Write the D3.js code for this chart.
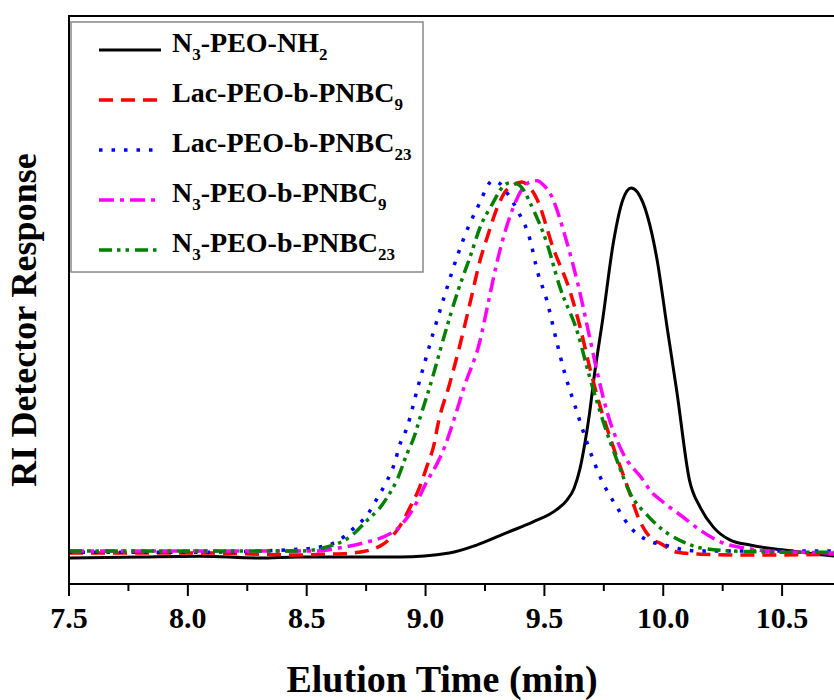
<!DOCTYPE html>
<html>
<head>
<meta charset="utf-8">
<script src="https://cdn.jsdelivr.net/npm/d3@7"></script>
<style>
  body { margin: 0; background: #fff; }
  text { font-family: "Liberation Serif", "Times New Roman", serif; font-weight: bold; fill: #000; }
</style>
</head>
<body>
<svg id="chart" width="834" height="700"></svg>
<script>
// GPC traces, elution time (min) vs RI response (normalised, a.u.)
const seriesNames = ["N3-PEO-NH2", "Lac-PEO-b-PNBC9", "Lac-PEO-b-PNBC23", "N3-PEO-b-PNBC9", "N3-PEO-b-PNBC23"];
// legend labels split in [text, subscript] pieces
const legendParts = [
  [["N", ""], ["3", "sub"], ["-PEO-NH", ""], ["2", "sub"]],
  [["Lac-PEO-b-PNBC", ""], ["9", "sub"]],
  [["Lac-PEO-b-PNBC", ""], ["23", "sub"]],
  [["N", ""], ["3", "sub"], ["-PEO-b-PNBC", ""], ["9", "sub"]],
  [["N", ""], ["3", "sub"], ["-PEO-b-PNBC", ""], ["23", "sub"]]
];
const xTicks = [7.5, 8.0, 8.5, 9.0, 9.5, 10.0, 10.5];

const nh2Time = [7.50, 7.80, 8.05, 8.30, 8.47, 8.89, 9.10, 9.215, 9.34, 9.45, 9.55, 9.595, 9.625, 9.65, 9.672, 9.69, 9.71, 9.745, 9.79, 9.83, 9.865, 9.915, 9.974, 10.016, 10.058, 10.11, 10.155, 10.21, 10.28, 10.365, 10.50, 10.645, 10.72];
const nh2Resp = [0.063, 0.066, 0.068, 0.063, 0.066, 0.066, 0.076, 0.096, 0.127, 0.154, 0.185, 0.210, 0.240, 0.290, 0.360, 0.430, 0.525, 0.666, 0.861, 0.970, 1.000, 0.962, 0.818, 0.648, 0.481, 0.261, 0.192, 0.142, 0.109, 0.096, 0.084, 0.073, 0.068];

const lac9Time = [7.50, 8.05, 8.47, 8.585, 8.695, 8.81, 8.89, 8.935, 8.97, 9.005, 9.04, 9.05, 9.10, 9.145, 9.19, 9.23, 9.26, 9.305, 9.335, 9.37, 9.405, 9.44, 9.47, 9.535, 9.61, 9.65, 9.69, 9.735, 9.79, 9.85, 9.90, 9.957, 9.986, 10.058, 10.155, 10.29, 10.50, 10.72];
const lac9Resp = [0.076, 0.076, 0.071, 0.073, 0.076, 0.094, 0.142, 0.192, 0.235, 0.294, 0.362, 0.395, 0.501, 0.603, 0.716, 0.818, 0.876, 0.955, 0.990, 1.008, 1.015, 1.000, 0.970, 0.851, 0.734, 0.648, 0.547, 0.446, 0.344, 0.243, 0.159, 0.109, 0.101, 0.078, 0.073, 0.071, 0.071, 0.073];

const lac23Time = [7.50, 8.05, 8.485, 8.555, 8.63, 8.695, 8.76, 8.80, 8.84, 8.87, 8.89, 8.92, 8.97, 9.03, 9.085, 9.135, 9.18, 9.23, 9.255, 9.28, 9.31, 9.34, 9.385, 9.44, 9.47, 9.51, 9.55, 9.585, 9.63, 9.68, 9.735, 9.805, 9.86, 9.93, 10.007, 10.07, 10.155, 10.365, 10.72];
const lac23Resp = [0.078, 0.078, 0.086, 0.091, 0.106, 0.137, 0.177, 0.218, 0.261, 0.304, 0.347, 0.390, 0.501, 0.628, 0.737, 0.830, 0.901, 0.965, 0.998, 1.018, 1.012, 0.990, 0.945, 0.868, 0.790, 0.716, 0.615, 0.532, 0.446, 0.354, 0.268, 0.192, 0.142, 0.109, 0.096, 0.086, 0.081, 0.081, 0.081];

const n3b9Time = [7.50, 8.05, 8.54, 8.64, 8.755, 8.82, 8.89, 8.95, 9.005, 9.05, 9.08, 9.115, 9.165, 9.23, 9.26, 9.31, 9.37, 9.41, 9.44, 9.47, 9.495, 9.525, 9.595, 9.64, 9.69, 9.72, 9.765, 9.83, 9.915, 9.944, 9.999, 10.083, 10.155, 10.24, 10.335, 10.435, 10.575, 10.72];
const n3b9Resp = [0.081, 0.081, 0.081, 0.089, 0.104, 0.116, 0.142, 0.190, 0.256, 0.304, 0.344, 0.405, 0.501, 0.615, 0.699, 0.835, 0.952, 1.000, 1.015, 1.018, 1.008, 0.985, 0.861, 0.759, 0.623, 0.539, 0.430, 0.329, 0.261, 0.235, 0.205, 0.167, 0.134, 0.104, 0.089, 0.081, 0.078, 0.076];

const n3b23Time = [7.50, 8.05, 8.47, 8.585, 8.68, 8.755, 8.81, 8.84, 8.88, 8.92, 8.955, 8.97, 9.02, 9.08, 9.135, 9.19, 9.23, 9.28, 9.325, 9.355, 9.385, 9.415, 9.44, 9.51, 9.565, 9.64, 9.69, 9.745, 9.805, 9.86, 9.935, 9.999, 10.083, 10.155, 10.29, 10.50, 10.72];
const n3b23Resp = [0.081, 0.081, 0.081, 0.091, 0.116, 0.159, 0.192, 0.218, 0.261, 0.324, 0.375, 0.405, 0.501, 0.628, 0.737, 0.830, 0.901, 0.958, 1.003, 1.013, 1.010, 0.992, 0.962, 0.861, 0.749, 0.633, 0.522, 0.413, 0.311, 0.228, 0.170, 0.134, 0.104, 0.089, 0.081, 0.078, 0.078];

const seriesData = [
  [nh2Time, nh2Resp],
  [lac9Time, lac9Resp],
  [lac23Time, lac23Resp],
  [n3b9Time, n3b9Resp],
  [n3b23Time, n3b23Resp]
];

// line styles (Origin-like defaults)
const styles = [
  { color: "#000000", width: 3, dash: null },
  { color: "#ff0000", width: 3.5, dash: "14,8" },
  { color: "#0000ff", width: 3.5, dash: "3.5,9" },
  { color: "#ff00ff", width: 3.5, dash: "15,6,4,6" },
  { color: "#008000", width: 3.5, dash: "13,5,3.5,5,3.5,6" }
];

const svg = d3.select("#chart");
const margin = { left: 69, top: 16, bottom: 584 };

const x = d3.scaleLinear().domain([7.5, 10.75]).range([margin.left, margin.left + 3.25 * 237.7]);
const y = d3.scaleLinear().domain([0, 1.435]).range([margin.bottom - 1, margin.top]);

svg.append("clipPath").attr("id", "plotclip")
  .append("rect")
  .attr("x", margin.left)
  .attr("y", margin.top)
  .attr("width", 834 - margin.left)
  .attr("height", margin.bottom - margin.top);

const line = d3.line()
  .x(d => x(d[0]))
  .y(d => y(d[1]))
  .curve(d3.curveMonotoneX);

const plot = svg.append("g").attr("clip-path", "url(#plotclip)");

seriesData.forEach((s, i) => {
  const pts = s[0].map((t, j) => [t, s[1][j]]);
  plot.append("path")
    .datum(pts)
    .attr("d", line)
    .attr("fill", "none")
    .attr("stroke", styles[i].color)
    .attr("stroke-width", styles[i].width)
    .attr("stroke-dasharray", styles[i].dash)
    .attr("stroke-linejoin", "round");
});

// frame (right side is outside the picture)
svg.append("path")
  .attr("d", `M840,${margin.top}H${margin.left}V${margin.bottom}H840`)
  .attr("fill", "none")
  .attr("stroke", "#000")
  .attr("stroke-width", 2);

// x axis ticks
const minorTicks = d3.range(7.75, 10.8, 0.5);
svg.append("g").selectAll("line.major")
  .data(xTicks)
  .join("line")
  .attr("x1", d => x(d)).attr("x2", d => x(d))
  .attr("y1", margin.bottom).attr("y2", margin.bottom + 12)
  .attr("stroke", "#000").attr("stroke-width", 2);
svg.append("g").selectAll("line.minor")
  .data(minorTicks)
  .join("line")
  .attr("x1", d => x(d)).attr("x2", d => x(d))
  .attr("y1", margin.bottom).attr("y2", margin.bottom + 7)
  .attr("stroke", "#000").attr("stroke-width", 2);
svg.append("g").selectAll("text")
  .data(xTicks)
  .join("text")
  .attr("x", d => x(d))
  .attr("y", 628)
  .attr("text-anchor", "middle")
  .attr("font-size", 30)
  .text(d => d.toFixed(1));

// axis titles
svg.append("text")
  .attr("x", 442)
  .attr("y", 692)
  .attr("text-anchor", "middle")
  .attr("font-size", 38)
  .text("Elution Time (min)");

svg.append("text")
  .attr("transform", "translate(36,320) rotate(-90)")
  .attr("text-anchor", "middle")
  .attr("font-size", 36)
  .text("RI Detector Response");

// legend
const legend = svg.append("g");
legend.append("rect")
  .attr("x", 71).attr("y", 22)
  .attr("width", 352).attr("height", 250)
  .attr("fill", "#fff")
  .attr("stroke", "#888")
  .attr("stroke-width", 1.5);

seriesNames.forEach((name, i) => {
  const cy = 50 + i * 50;
  legend.append("line")
    .attr("x1", 99).attr("x2", 161)
    .attr("y1", cy).attr("y2", cy)
    .attr("stroke", styles[i].color)
    .attr("stroke-width", styles[i].width)
    .attr("stroke-dasharray", styles[i].dash);
  const t = legend.append("text")
    .attr("x", 172)
    .attr("y", cy + 10)
    .attr("font-size", 28);
  legendParts[i].forEach(p => {
    if (p[1] === "sub") {
      t.append("tspan").attr("font-size", 17).attr("dy", 8).text(p[0]);
    } else {
      t.append("tspan").attr("dy", t.selectAll("tspan").size() ? -8 : 0).text(p[0]);
    }
  });
});
</script>
</body>
</html>
